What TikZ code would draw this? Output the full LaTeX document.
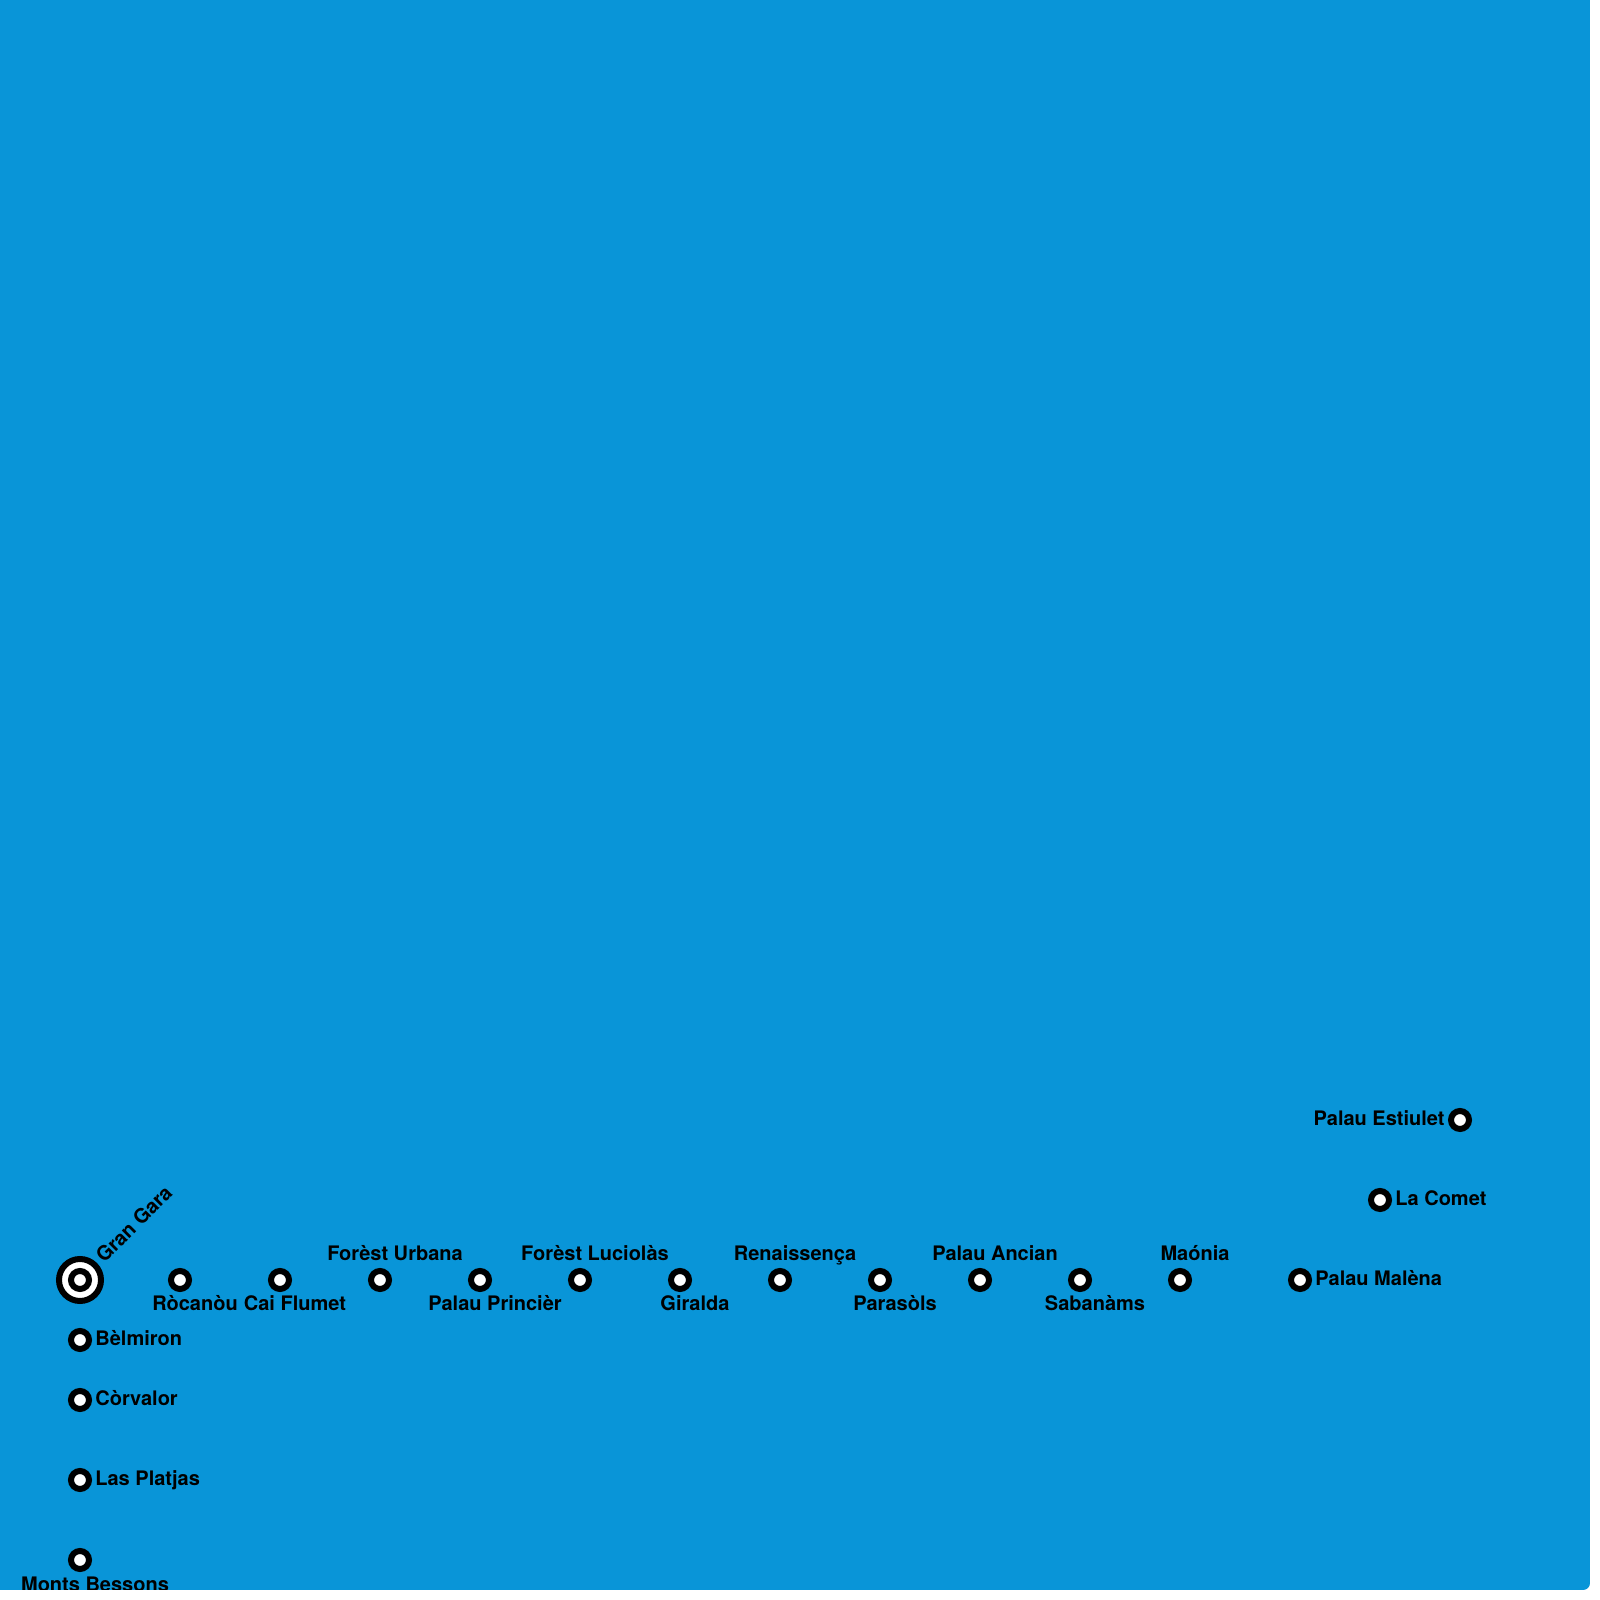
\documentclass[tikz,border=0pt]{standalone}
\usepackage{xcolor}
\usepackage{tikz}
\usepackage{fontspec}
\setmainfont{TeX Gyre Heros}
\definecolor{panelblue}{HTML}{0995D8}
\tikzset{
  stn/.style={circle, draw=black, fill=white, line width=3pt, minimum size=9pt, inner sep=0pt},
  hubout/.style={circle, draw=black, fill=white, line width=3pt, minimum size=21pt, inner sep=0pt},
  hubin/.style={circle, draw=black, fill=white, line width=3pt, minimum size=9pt, inner sep=0pt},
  lbl/.style={font=\bfseries\fontsize{10}{12}\selectfont, text=black, inner sep=0pt},
  labup/.style={lbl, anchor=base, shift={(15,19)}},
  labdown/.style={lbl, anchor=base, shift={(15,-31)}},
  labright/.style={lbl, anchor=base west, shift={(15,-6)}},
  lableft/.style={lbl, anchor=base east, shift={(-15,-6)}}
}
\begin{document}
\begin{tikzpicture}[x=.5pt, y=.5pt]
    \useasboundingbox (0,0) rectangle (1600,1600);
    \begin{scope}
        \clip (0,10) -- (0,1600) -- (1590,1600) -- (1590,17) arc[start angle=0, end angle=-90, radius=7] -- cycle;
        \fill[panelblue] (0,10) rectangle (1590,1600);

        \node[hubout] (gran) at (80,320) {};
        \node[hubin] (grancore) at (gran) {};
        \node[stn] (rocanou) at (180,320) {};
        \node[stn] (cai) at (280,320) {};
        \node[stn] (urbana) at (380,320) {};
        \node[stn] (princier) at (480,320) {};
        \node[stn] (luciolas) at (580,320) {};
        \node[stn] (giralda) at (680,320) {};
        \node[stn] (renaissenca) at (780,320) {};
        \node[stn] (parasols) at (880,320) {};
        \node[stn] (ancian) at (980,320) {};
        \node[stn] (sabanams) at (1080,320) {};
        \node[stn] (maonia) at (1180,320) {};
        \node[stn] (malena) at (1300,320) {};
        \node[stn] (comet) at (1380,400) {};
        \node[stn] (estiulet) at (1460,480) {};
        \node[stn] (belmiron) at (80,260) {};
        \node[stn] (corvalor) at (80,200) {};
        \node[stn] (platjas) at (80,120) {};
        \node[stn] (monts) at (80,40) {};

        \node[lbl, anchor=base west, rotate=45] (granl) at (104,336) {Gran Gara};
        \node[labdown] (rocanoul) at (rocanou) {Ròcanòu};
        \node[labdown] (cail) at (cai) {Cai Flumet};
        \node[labup] (urbanal) at (urbana) {Forèst Urbana};
        \node[labdown] (princierl) at (princier) {Palau Princièr};
        \node[labup] (luciolasl) at (luciolas) {Forèst Luciolàs};
        \node[labdown] (giraldal) at (giralda) {Giralda};
        \node[labup] (renaissencal) at (renaissenca) {Renaissença};
        \node[labdown] (parasolsl) at (parasols) {Parasòls};
        \node[labup] (ancianl) at (ancian) {Palau Ancian};
        \node[labdown] (sabanamsl) at (sabanams) {Sabanàms};
        \node[labup] (maonial) at (maonia) {Maónia};
        \node[labright] (malenal) at (malena) {Palau Malèna};
        \node[labright] (cometl) at (comet) {La Comet};
        \node[lableft] (estiuletl) at (estiulet) {Palau Estiulet};
        \node[labright] (belmironl) at (belmiron) {Bèlmiron};
        \node[labright] (corvalorl) at (corvalor) {Còrvalor};
        \node[labright] (platjasl) at (platjas) {Las Platjas};
        \node[labdown] (montsl) at (monts) {Monts Bessons};
    \end{scope}
\end{tikzpicture}
\end{document}
